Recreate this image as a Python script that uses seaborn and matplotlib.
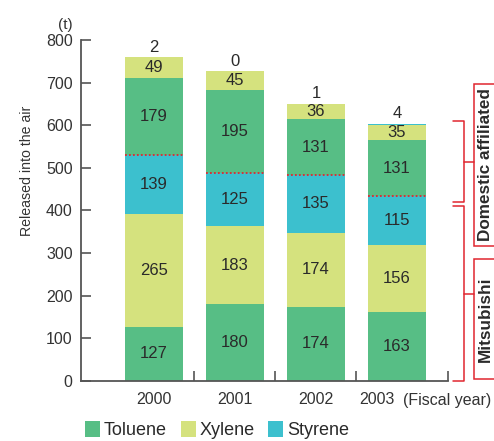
import numpy as np
import pandas as pd
import matplotlib
matplotlib.use("Agg")
import matplotlib.pyplot as plt
from matplotlib.patches import Patch, Rectangle
from matplotlib.lines import Line2D
import seaborn as sns

# Release of solvents into the air (tonnes), by fiscal year
years = ["2000", "2001", "2002", "2003"]
mitsubishi_toluene = [127, 180, 174, 163]
mitsubishi_xylene = [265, 183, 174, 156]
mitsubishi_styrene = [139, 125, 135, 115]
affiliated_toluene = [179, 195, 131, 131]
affiliated_xylene = [49, 45, 36, 35]
affiliated_styrene = [2, 0, 1, 4]
chemicals = ["Toluene", "Xylene", "Styrene"]
y_ticks = [0, 100, 200, 300, 400, 500, 600, 700, 800]

colors = {"Toluene": "#57BE85", "Xylene": "#D5E27E", "Styrene": "#3CC0CE"}
text_color = "#2a2a2a"
axis_color = "#555555"
red = "#E0262F"

sns.set_theme(style="white")
plt.rcParams["font.family"] = ["Liberation Sans", "DejaVu Sans"]

W, H = 494, 441
fig = plt.figure(figsize=(W / 100, H / 100), dpi=100)


def fx(px):
    return px / W


def fy(py):
    return 1 - py / H


ax = fig.add_axes([fx(81), fy(381), (448 - 81) / W, (381 - 40) / H])

layers = [
    (mitsubishi_toluene, "Toluene"),
    (mitsubishi_xylene, "Xylene"),
    (mitsubishi_styrene, "Styrene"),
    (affiliated_toluene, "Toluene"),
    (affiliated_xylene, "Xylene"),
    (affiliated_styrene, "Styrene"),
]
values = np.array([l[0] for l in layers], dtype=float)
tops = np.cumsum(values, axis=0)
bottoms = tops - values

# stacked bars: draw cumulative totals from the top layer down
for i in reversed(range(len(layers))):
    df = pd.DataFrame({"year": years, "total": tops[i]})
    sns.barplot(data=df, x="year", y="total", order=years,
                color=colors[layers[i][1]], saturation=1, width=0.72,
                linewidth=0, errorbar=None, ax=ax)

# segment values
for i in range(len(layers)):
    for j in range(len(years)):
        v = int(values[i, j])
        if i == len(layers) - 1:
            ax.annotate(str(v), (j, tops[i, j]), xytext=(0, 1.5),
                        textcoords="offset points", ha="center", va="bottom",
                        fontsize=12, color=text_color)
        else:
            ax.text(j, bottoms[i, j] + values[i, j] / 2, str(v),
                    ha="center", va="center", fontsize=12, color=text_color)

# boundary between Mitsubishi and affiliated companies
for j in range(len(years)):
    ax.hlines(tops[2, j], j - 0.36, j + 0.36, colors=red,
              linestyles=(0, (1, 1.2)), linewidth=1.3, zorder=5)

ax.set_xlim(-0.9, 3.63)
ax.set_ylim(0, 800)
ax.set_yticks(y_ticks)
ax.set_yticklabels([str(t) for t in y_ticks], fontsize=11.5, color="#333333")
ax.set_xticks([0.5, 1.5, 2.5, 3.63])
ax.set_xticklabels([])
ax.set_xlabel("")
ax.set_ylabel("")
ax.tick_params(axis="both", direction="in", length=7, width=1.2,
               color=axis_color, pad=6)
ax.tick_params(axis="x", bottom=True)
ax.tick_params(axis="y", left=True)
for s in ["top", "right"]:
    ax.spines[s].set_visible(False)
for s in ["left", "bottom"]:
    ax.spines[s].set_color(axis_color)
    ax.spines[s].set_linewidth(1.3)

# year labels
ylab_y = -19 / 341
tr = ax.get_xaxis_transform()
for j, y in enumerate(years[:-1]):
    ax.text(j, ylab_y, y, transform=tr, ha="center", va="center",
            fontsize=11.5, color="#333333")
ax.text(2.975, ylab_y, years[-1], transform=tr, ha="right", va="center",
        fontsize=11.5, color="#333333")
ax.text(3.07, ylab_y, "(Fiscal year)", transform=tr, ha="left", va="center",
        fontsize=11.5, color="#333333", clip_on=False)

# unit and axis title
fig.text(fx(65), fy(25), "(t)", ha="center", va="center", fontsize=11,
         color="#333333")
fig.text(fx(27), fy(171), "Released into the air", rotation=90,
         ha="center", va="center", fontsize=10.2, color="#333333")

# legend
handles = [Patch(facecolor=colors[c], edgecolor="none", label=c) for c in chemicals]
fig.legend(handles=handles, loc="center left", bbox_to_anchor=(fx(85), fy(430)),
           ncol=3, frameon=False, fontsize=13, handlelength=0.85,
           handleheight=0.95, handletextpad=0.2, columnspacing=0.75,
           borderpad=0, borderaxespad=0, labelcolor=text_color)


# group brackets on the right
def bracket(top_px, bot_px):
    kw = dict(transform=fig.transFigure, color=red, linewidth=1.1)
    xs = [fx(453), fx(464), fx(464), fx(453)]
    ys = [fy(top_px), fy(top_px), fy(bot_px), fy(bot_px)]
    fig.add_artist(Line2D(xs, ys, **kw))
    mid = (top_px + bot_px) / 2
    fig.add_artist(Line2D([fx(464), fx(474)], [fy(mid), fy(mid)], **kw))


bracket(121, 202)
bracket(206, 381)

for top_px, bot_px, label in [(84, 246, "Domestic affiliated"),
                              (259, 379, "Mitsubishi")]:
    fig.add_artist(Rectangle((fx(474), fy(bot_px)), fx(40), (bot_px - top_px) / H,
                             transform=fig.transFigure, facecolor="white",
                             edgecolor=red, linewidth=1.1))
    fig.text(fx(485), fy((top_px + bot_px) / 2), label, rotation=90,
             ha="center", va="center", fontsize=12.3, fontweight="bold",
             color=text_color)

fig.savefig("out.png", dpi=100)
